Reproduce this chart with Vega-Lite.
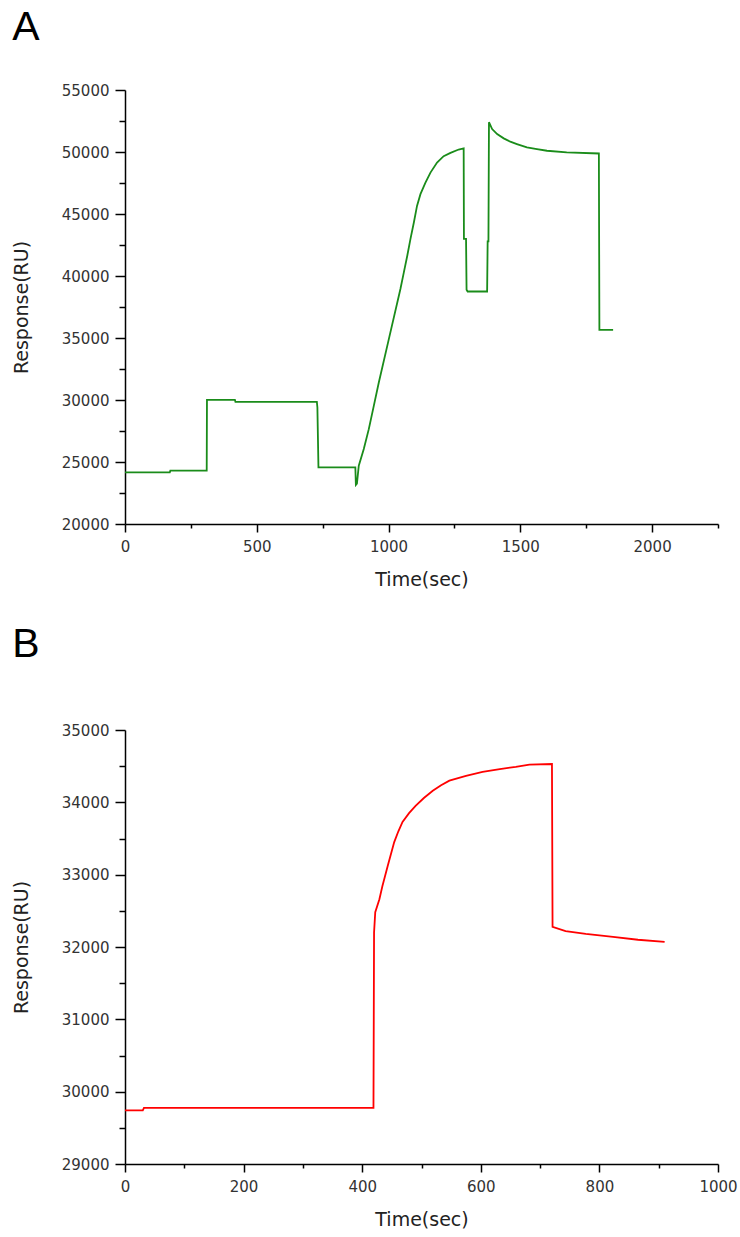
{
  "$schema": "https://vega.github.io/schema/vega-lite/v6.json",
  "padding": {"left": 12, "top": 7, "right": 0, "bottom": 0},
  "background": "white",
  "spacing": 35,
  "config": {
    "view": {"stroke": null},
    "font": "DejaVu Sans",
    "axis": {
      "grid": false,
      "domainColor": "#000000",
      "domainWidth": 1.5,
      "tickColor": "#000000",
      "tickWidth": 1.5,
      "labelFont": "DejaVu Sans",
      "labelFontSize": 15,
      "labelColor": "#333333",
      "labelOverlap": false,
      "labelFlush": false,
      "titleFont": "DejaVu Sans",
      "titleFontSize": 19,
      "titleFontWeight": "normal",
      "titleColor": "#222222"
    },
    "axisX": {"labelPadding": 7, "titlePadding": 16},
    "axisY": {"labelPadding": 6, "titlePadding": 30},
    "title": {"font": "Liberation Sans", "fontSize": 41, "fontWeight": "normal", "anchor": "start", "frame": "bounds", "color": "#000000"}
  },
  "vconcat": [
    {
      "title": {"text": "A", "offset": 34},
      "width": 593,
      "height": 434,
      "data": {"values": [
        {"t": 0, "v": 24170}, {"t": 170, "v": 24170}, {"t": 172, "v": 24300}, {"t": 310, "v": 24300},
        {"t": 311, "v": 30010}, {"t": 417, "v": 30010}, {"t": 419, "v": 29850}, {"t": 728, "v": 29850},
        {"t": 730, "v": 29400}, {"t": 734, "v": 24570}, {"t": 874, "v": 24570}, {"t": 876, "v": 23150},
        {"t": 880, "v": 23250}, {"t": 887, "v": 24700}, {"t": 906, "v": 26050}, {"t": 925, "v": 27650},
        {"t": 944, "v": 29530}, {"t": 963, "v": 31410}, {"t": 1003, "v": 35090}, {"t": 1045, "v": 38950},
        {"t": 1058, "v": 40290}, {"t": 1071, "v": 41630}, {"t": 1083, "v": 42970}, {"t": 1096, "v": 44310},
        {"t": 1108, "v": 45650}, {"t": 1121, "v": 46600}, {"t": 1140, "v": 47530}, {"t": 1159, "v": 48340},
        {"t": 1184, "v": 49150}, {"t": 1209, "v": 49660}, {"t": 1235, "v": 49930}, {"t": 1266, "v": 50200},
        {"t": 1285, "v": 50300}, {"t": 1286, "v": 43000}, {"t": 1294, "v": 43000}, {"t": 1296, "v": 38900},
        {"t": 1300, "v": 38750}, {"t": 1374, "v": 38750}, {"t": 1376, "v": 42800}, {"t": 1379, "v": 42800},
        {"t": 1381, "v": 52400}, {"t": 1393, "v": 51850}, {"t": 1412, "v": 51450}, {"t": 1437, "v": 51100},
        {"t": 1462, "v": 50830}, {"t": 1487, "v": 50640}, {"t": 1525, "v": 50370}, {"t": 1563, "v": 50240},
        {"t": 1601, "v": 50100}, {"t": 1676, "v": 49970}, {"t": 1798, "v": 49880}, {"t": 1800, "v": 35650},
        {"t": 1852, "v": 35650}
      ]},
      "mark": {"type": "line", "color": "#1a8c1a", "strokeWidth": 1.8},
      "encoding": {
        "x": {
          "field": "t", "type": "quantitative",
          "scale": {"domain": [0, 2250], "nice": false, "zero": false},
          "axis": {
            "title": "Time(sec)", "format": "d",
            "values": [0, 250, 500, 750, 1000, 1250, 1500, 1750, 2000, 2250],
            "labelExpr": "datum.value % 500 === 0 ? datum.label : ''",
            "tickSize": {"condition": {"test": "datum.value % 500 === 0", "value": 8}, "value": 4}
          }
        },
        "y": {
          "field": "v", "type": "quantitative",
          "scale": {"domain": [20000, 55000], "nice": false, "zero": false},
          "axis": {
            "title": "Response(RU)", "format": "d",
            "values": [20000, 22500, 25000, 27500, 30000, 32500, 35000, 37500, 40000, 42500, 45000, 47500, 50000, 52500, 55000],
            "labelExpr": "datum.value % 5000 === 0 ? datum.label : ''",
            "tickSize": {"condition": {"test": "datum.value % 5000 === 0", "value": 10}, "value": 6}
          }
        }
      }
    },
    {
      "title": {"text": "B", "offset": 57},
      "width": 593,
      "height": 434,
      "data": {"values": [
        {"t": 0, "v": 29740}, {"t": 30, "v": 29740}, {"t": 32, "v": 29775}, {"t": 419, "v": 29775},
        {"t": 420, "v": 32200}, {"t": 422, "v": 32480}, {"t": 429, "v": 32660}, {"t": 434, "v": 32840},
        {"t": 443, "v": 33120}, {"t": 454, "v": 33450}, {"t": 461, "v": 33600}, {"t": 468, "v": 33730},
        {"t": 479, "v": 33850}, {"t": 490, "v": 33950}, {"t": 504, "v": 34060}, {"t": 519, "v": 34160},
        {"t": 533, "v": 34235}, {"t": 547, "v": 34300}, {"t": 575, "v": 34365}, {"t": 603, "v": 34420},
        {"t": 632, "v": 34460}, {"t": 659, "v": 34490}, {"t": 682, "v": 34520}, {"t": 720, "v": 34530},
        {"t": 721, "v": 32280}, {"t": 743, "v": 32220}, {"t": 777, "v": 32180}, {"t": 823, "v": 32140},
        {"t": 865, "v": 32100}, {"t": 910, "v": 32070}
      ]},
      "mark": {"type": "line", "color": "#ff0000", "strokeWidth": 1.8},
      "encoding": {
        "x": {
          "field": "t", "type": "quantitative",
          "scale": {"domain": [0, 1000], "nice": false, "zero": false},
          "axis": {
            "title": "Time(sec)", "format": "d",
            "values": [0, 100, 200, 300, 400, 500, 600, 700, 800, 900, 1000],
            "labelExpr": "datum.value % 200 === 0 ? datum.label : ''",
            "tickSize": {"condition": {"test": "datum.value % 200 === 0", "value": 8}, "value": 4}
          }
        },
        "y": {
          "field": "v", "type": "quantitative",
          "scale": {"domain": [29000, 35000], "nice": false, "zero": false},
          "axis": {
            "title": "Response(RU)", "format": "d",
            "values": [29000, 29500, 30000, 30500, 31000, 31500, 32000, 32500, 33000, 33500, 34000, 34500, 35000],
            "labelExpr": "datum.value % 1000 === 0 ? datum.label : ''",
            "tickSize": {"condition": {"test": "datum.value % 1000 === 0", "value": 10}, "value": 6}
          }
        }
      }
    }
  ]
}
